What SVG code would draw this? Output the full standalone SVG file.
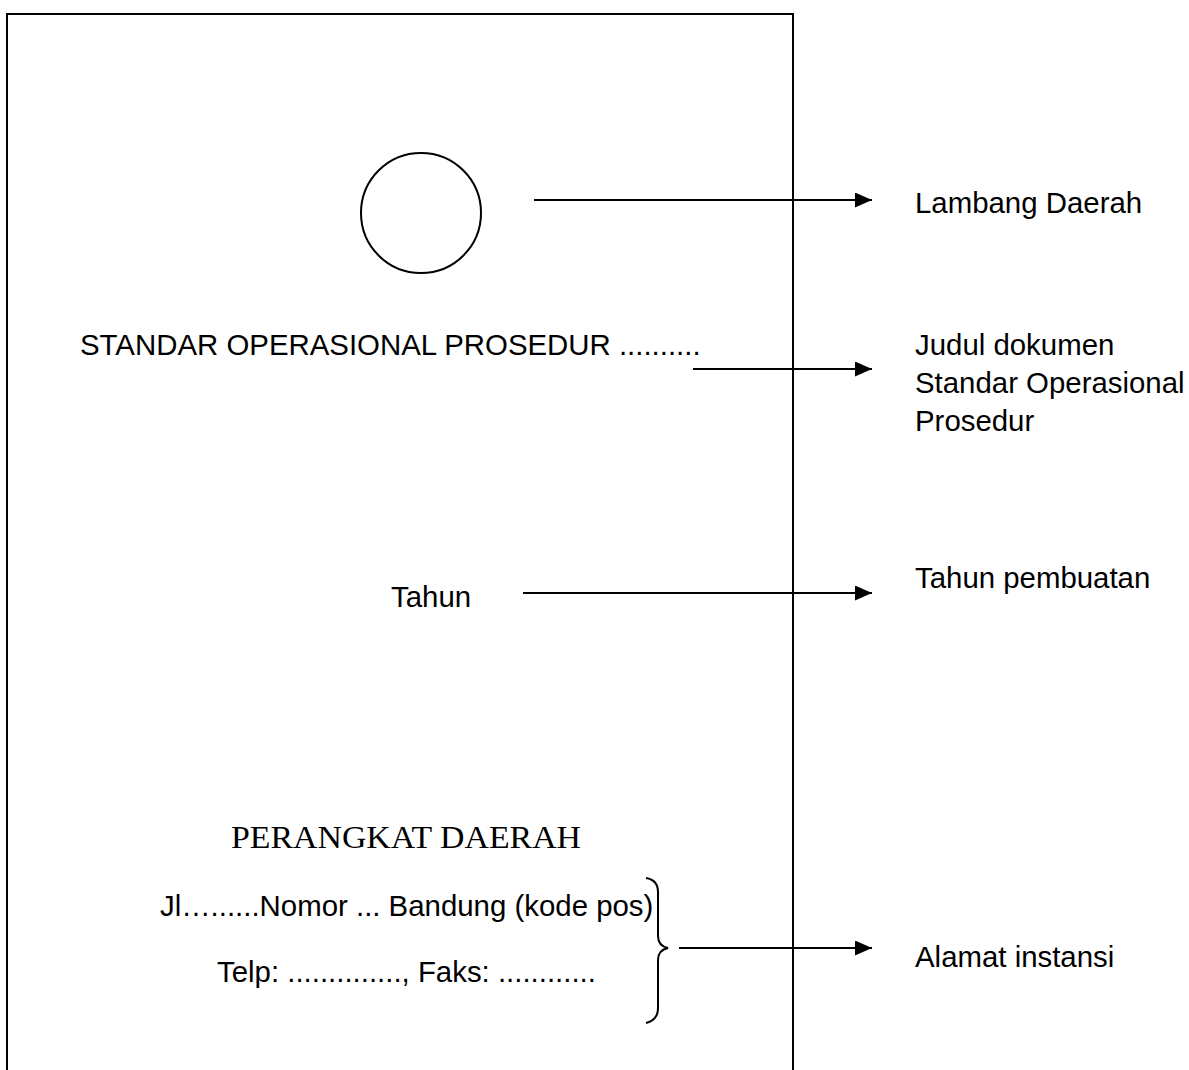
<svg xmlns="http://www.w3.org/2000/svg" width="1189" height="1070" viewBox="0 0 1189 1070">
<defs>
<marker id="arr" markerWidth="18" markerHeight="15" refX="17" refY="7.5" orient="auto" markerUnits="userSpaceOnUse">
<path d="M0,0 L17,7.5 L0,15 Z" fill="#000"/>
</marker>
<style>
.s{font-family:"Liberation Sans",Arial,sans-serif;font-size:29.4px;fill:#000}
.sf{font-family:"Liberation Serif","Times New Roman",serif;font-size:32px;fill:#000}
.ln{stroke:#000;stroke-width:2;fill:none}
</style>
</defs>
<rect width="1189" height="1070" fill="#fff"/>
<g id="page">
<rect class="ln" x="7" y="14" width="786" height="1080"/>
</g>
<g id="lambang">
<circle class="ln" cx="421" cy="213" r="60"/>
</g>
<g id="judul">
<text class="s" x="80" y="355">STANDAR OPERASIONAL PROSEDUR ..........</text>
</g>
<g id="tahun">
<text class="s" x="391" y="607">Tahun</text>
</g>
<g id="perangkat">
<text class="sf" x="231" y="848" textLength="350" lengthAdjust="spacingAndGlyphs">PERANGKAT DAERAH</text>
</g>
<g id="alamat">
<text class="s" x="160" y="916">Jl…......Nomor ... Bandung (kode pos)</text>
<text class="s" x="217" y="982">Telp: .............., Faks: ............</text>
<path class="ln" d="M646,878 Q658,880 658,892 L658,936 Q658,946 668,948 Q658,950 658,960 L658,1008 Q658,1020 646,1023"/>
</g>
<g id="label-lambang"><text class="s" x="915" y="213">Lambang Daerah</text></g>
<g id="label-judul">
<text class="s" x="915" y="355">Judul dokumen</text>
<text class="s" x="915" y="393">Standar Operasional</text>
<text class="s" x="915" y="431">Prosedur</text>
</g>
<g id="label-tahun"><text class="s" x="915" y="588">Tahun pembuatan</text></g>
<g id="label-alamat"><text class="s" x="915" y="967">Alamat instansi</text></g>
<g id="connectors">
<line class="ln" x1="534" y1="200" x2="872" y2="200" marker-end="url(#arr)"/>
<line class="ln" x1="693" y1="369" x2="872" y2="369" marker-end="url(#arr)"/>
<line class="ln" x1="523" y1="593" x2="872" y2="593" marker-end="url(#arr)"/>
<line class="ln" x1="679" y1="948" x2="872" y2="948" marker-end="url(#arr)"/>
</g>
</svg>
